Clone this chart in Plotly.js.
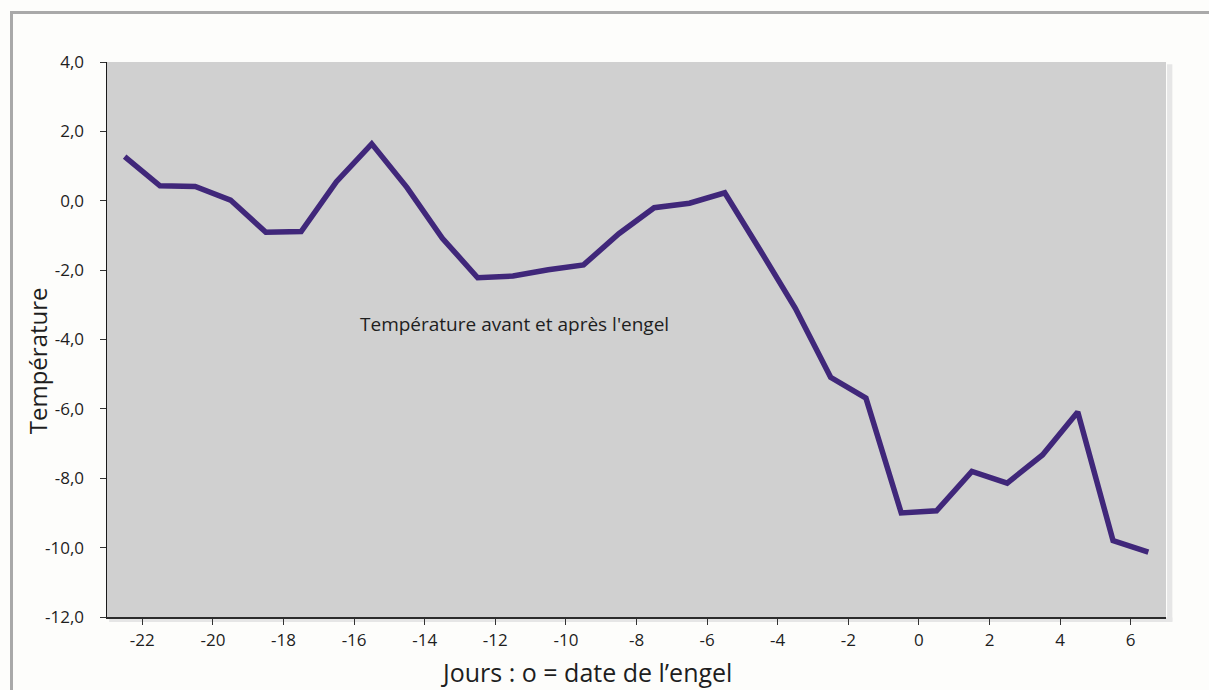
<!DOCTYPE html>
<html>
<head>
<meta charset="utf-8">
<script src="https://cdn.plot.ly/plotly-3.0.1.min.js"></script>
<style>
  html, body { margin: 0; padding: 0; background: #fdfdfb; }
  #wrap { position: relative; width: 1209px; height: 690px; }
  #chart { width: 1209px; height: 690px; }
  #frame { position: absolute; left: 10px; top: 11px; width: 1199px; height: 679px;
           border-top: 3px solid #a9a9a9; border-left: 3px solid #a9a9a9; pointer-events: none; box-sizing: border-box; }
</style>
</head>
<body>
<div id="wrap">
  <div id="chart"></div>
  <div id="frame"></div>
</div>
<script>
// Days relative to the frost date (0 = date de l'engel)
const days = [-22.5, -21.5, -20.5, -19.5, -18.5, -17.5, -16.5, -15.5, -14.5, -13.5,
              -12.5, -11.5, -10.5, -9.5, -8.5, -7.5, -6.5, -5.5, -4.5, -3.5,
              -2.5, -1.5, -0.5, 0.5, 1.5, 2.5, 3.5, 4.5, 5.5, 6.5];
// Temperature
const temperature = [1.27, 0.43, 0.41, 0.02, -0.91, -0.89, 0.55, 1.64, 0.38, -1.08,
                     -2.22, -2.17, -1.99, -1.85, -0.95, -0.2, -0.07, 0.23, -1.42, -3.1,
                     -5.09, -5.69, -9.0, -8.94, -7.8, -8.14, -7.33, -6.09, -9.8, -10.13];
const xTicks = [-22, -20, -18, -16, -14, -12, -10, -8, -6, -4, -2, 0, 2, 4, 6];
const yTicks = [4, 2, 0, -2, -4, -6, -8, -10, -12];
const yTickText = ['4,0', '2,0', '0,0', '-2,0', '-4,0', '-6,0', '-8,0', '-10,0', '-12,0'];
const xTickText = xTicks.map(String);

const FONT = '"Open Sans", "Noto Sans", sans-serif';

const trace = {
  x: days, y: temperature, type: 'scatter', mode: 'lines',
  line: { color: '#40277a', width: 5.5, shape: 'linear' },
  hoverinfo: 'x+y'
};

const layout = {
  width: 1209, height: 690,
  margin: { l: 107, r: 43, t: 62, b: 73 },
  paper_bgcolor: 'rgba(0,0,0,0)',
  plot_bgcolor: '#d0d0d0',
  showlegend: false,
  font: { family: FONT, color: '#1e1e1e', size: 17 },
  xaxis: {
    range: [-23, 7], tickmode: 'array', tickvals: xTicks, ticktext: xTickText,
    showgrid: false, zeroline: false, showline: true, linecolor: '#2b2b2b', linewidth: 2,
    ticks: 'outside', ticklen: 6, tickwidth: 1, tickcolor: '#333', ticklabelstandoff: 1,
    tickfont: { family: FONT, size: 17, color: '#1e1e1e' }, fixedrange: true
  },
  yaxis: {
    range: [-12, 4], tickmode: 'array', tickvals: yTicks, ticktext: yTickText,
    showgrid: false, zeroline: false, showline: true, linecolor: '#1a1a1a', linewidth: 1.5,
    ticks: 'outside', ticklen: 6, tickwidth: 1, tickcolor: '#333', ticklabelstandoff: 12,
    tickfont: { family: FONT, size: 17, color: '#1e1e1e' }, fixedrange: true
  },
  shapes: [
    { type: 'rect', xref: 'paper', yref: 'paper', x0: 1.001, x1: 1.006, y0: -0.008, y1: 0.996,
      fillcolor: '#e6e6e6', line: { width: 0 }, layer: 'below' },
    { type: 'rect', xref: 'paper', yref: 'paper', x0: 0.002, x1: 1.006, y0: -0.009, y1: -0.001,
      fillcolor: '#e6e6e6', line: { width: 0 }, layer: 'below' }
  ],
  annotations: [
    { text: 'Température avant et après l\'engel', xref: 'paper', yref: 'paper',
      x: 0.385, y: 0.528, xanchor: 'center', yanchor: 'middle', showarrow: false,
      font: { family: FONT, size: 19, color: '#1e1e1e' } },
    { text: 'Jours : o = date de l’engel', xref: 'paper', yref: 'paper',
      x: 0.453, y: -0.099, xanchor: 'center', yanchor: 'middle', showarrow: false,
      font: { family: FONT, size: 25, color: '#1e1e1e' } },
    { text: 'Température', xref: 'paper', yref: 'paper', textangle: -90,
      x: -0.066, y: 0.461, xanchor: 'center', yanchor: 'middle', showarrow: false,
      font: { family: FONT, size: 24, color: '#1e1e1e' } }
  ]
};

Plotly.newPlot('chart', [trace], layout, { displayModeBar: false, staticPlot: true });
</script>
</body>
</html>
